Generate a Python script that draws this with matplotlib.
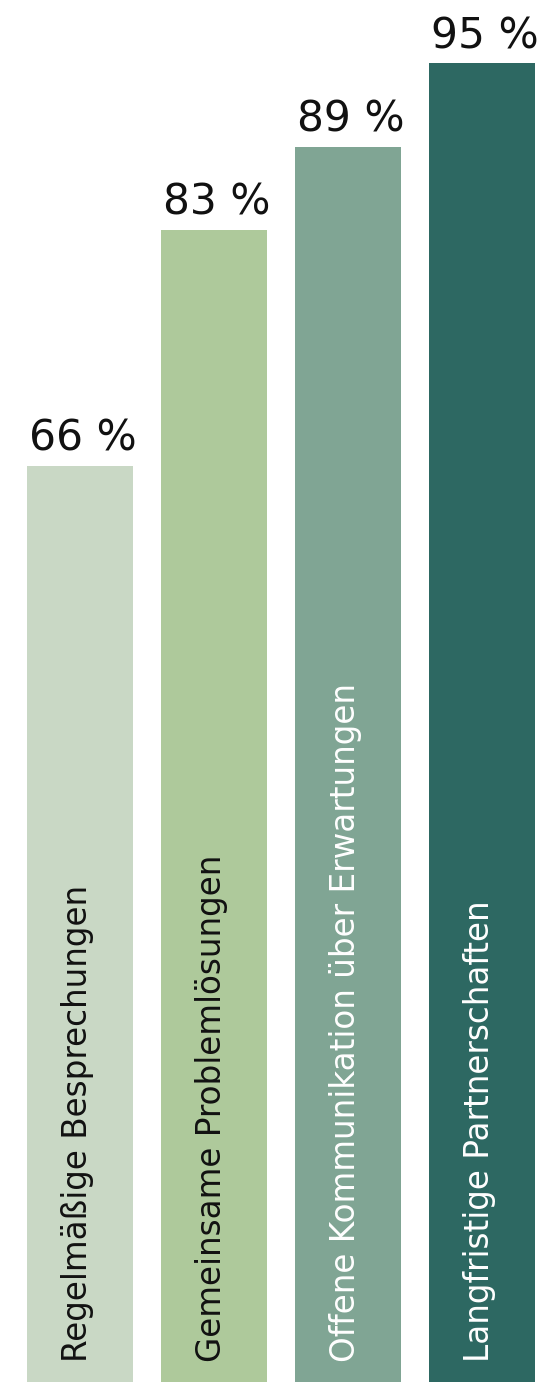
import matplotlib.pyplot as plt

plt.rcParams['font.family'] = ['DejaVu Sans']

categories = [
    "Regelmäßige Besprechungen",
    "Gemeinsame Problemlösungen",
    "Offene Kommunikation über Erwartungen",
    "Langfristige Partnerschaften",
]
values = [66, 83, 89, 95]
colors = ["#c9d8c5", "#aec99b", "#80a594", "#2d6862"]
text_colors = ["#111111", "#111111", "#ffffff", "#ffffff"]

fig = plt.figure(figsize=(5.44, 13.82), dpi=100)
ax = fig.add_axes([0, 0, 1, 1])

x = range(len(values))
ax.bar(x, values, width=0.79, color=colors)

for i, (v, name) in enumerate(zip(values, categories)):
    ax.text(i + 0.02, v + 0.45, f"{v} %", ha="center", va="bottom",
            fontsize=30.5, color="#111111")
    ax.text(i - 0.02, 1.45, name, rotation=90, ha="center", va="bottom",
            fontsize=23.5, color=text_colors[i])

ax.set_xlim(-0.597, 3.463)
ax.set_ylim(0, 99.56)
ax.axis("off")

fig.savefig("out.png", dpi=100)
